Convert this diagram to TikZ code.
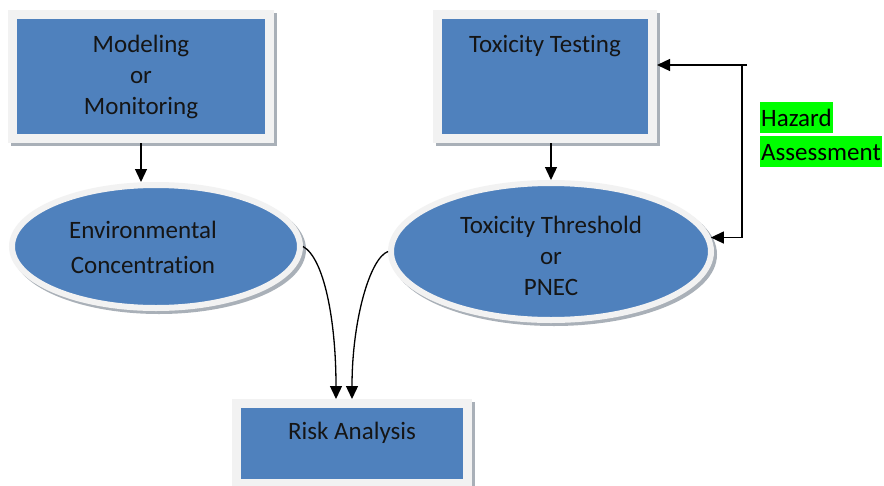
\documentclass[tikz,border=0pt]{standalone}
\usepackage{fontspec}
\setmainfont{Carlito}[Ligatures={NoCommon}]
\usetikzlibrary{arrows.meta,shapes.geometric}
\definecolor{boxblue}{HTML}{4F81BD}
\definecolor{rim}{HTML}{F2F2F2}
\definecolor{rimshade}{HTML}{A9B0B8}
\definecolor{ink}{HTML}{151515}
\definecolor{hilite}{HTML}{00FF00}
\begin{document}
\begin{tikzpicture}[x=1pt,y=-1pt,
  lab/.style={font=\fontsize{25}{31}\selectfont, text=ink, align=center},
  framedbox/.style={rectangle, fill=boxblue, draw=rim, line width=9pt, inner sep=0pt,
    lab,
    preaction={draw=rimshade, fill=rimshade, line width=9pt,
      transform canvas={shift={(3pt,-3pt)}}}},
  framedoval/.style={ellipse, fill=boxblue, draw=rim, line width=6pt, inner sep=0pt,
    lab,
    preaction={draw=rimshade, fill=rimshade, line width=6pt,
      transform canvas={shift={(3pt,-3pt)}}}},
  arr/.style={draw=black, line width=1.3pt, -{Triangle[length=13pt,width=12pt]}},
  tag/.style={fill=hilite, font=\fontsize{25}{31}\selectfont, text=black,
    inner xsep=1pt, inner ysep=0pt, text height=24pt, text depth=7pt, anchor=base west}
]
% page
\fill[white] (0,0) rectangle (884,485);
\useasboundingbox (0,0) rectangle (884,485);

% boxes
\node[framedbox, minimum width=257pt, minimum height=124pt] (m) at (141,76.5)
  {Modeling\\or\\Monitoring};
\node[framedbox, minimum width=215pt, minimum height=124pt,
  label={[lab, anchor=base, yshift=-42pt]north:Toxicity Testing}] (t) at (545,76.5) {};
\node[framedbox, minimum width=231pt, minimum height=80pt,
  label={[lab, anchor=base, yshift=-40pt]north:Risk Analysis}] (r) at (352,443.5) {};

% ovals
\node[framedoval, minimum width=288pt, minimum height=123pt,
  label={[lab, anchor=center, xshift=-13pt, yshift=-1pt, align=center]center:Environmental\\[4pt]Concentration}]
  (e) at (156,246.5) {};
\node[framedoval, minimum width=320pt, minimum height=137pt,
  label={[lab, anchor=center, yshift=-4.5pt, align=center]center:Toxicity Threshold\\or\\PNEC}]
  (p) at (551,251.5) {};

% highlighted note
\node[tag] (haz1) at (760,126) {Hazard};
\node[tag] (haz2) at (760,160) {Assessment};

% connectors
\draw[arr] (m.south) -- (m.south |- e.north);
\draw[arr] (p.north |- t.south) -- (p.north);
\coordinate (hzend) at (747,65);
\coordinate (hzbar) at (742,65);
\draw[arr] (hzend) -- (t.east |- hzend);
\draw[arr] (hzbar) |- (p.5);
\draw[arr] (e.east) .. controls (324,258) and (336,320) .. ([xshift=-16pt]r.north);
\draw[arr] (p.west) .. controls (370,258) and (352,320) .. (r.north);
\end{tikzpicture}
\end{document}
